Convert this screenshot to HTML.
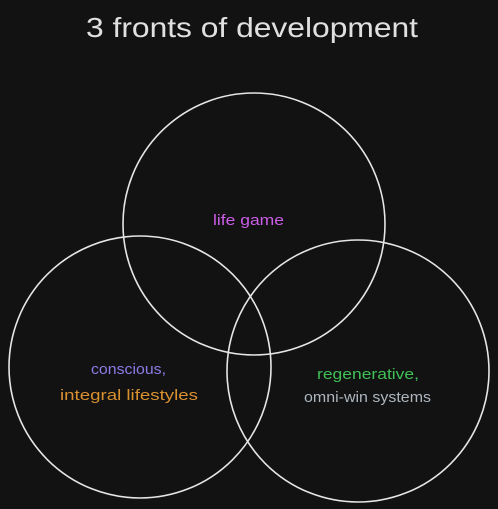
<!DOCTYPE html>
<html><head><style>
html,body{margin:0;padding:0;background:#121212;}
svg{display:block}
text{font-family:"Liberation Sans",sans-serif;}
</style></head><body>
<svg width="498" height="509" viewBox="0 0 498 509" xmlns="http://www.w3.org/2000/svg">
<rect width="498" height="509" fill="#121212"/>
<text x="86" y="37" font-size="28" fill="#e0e0e0" textLength="332" lengthAdjust="spacingAndGlyphs">3 fronts of development</text>
<g fill="none" stroke="#e6e6e6" stroke-width="1.6">
<circle cx="254" cy="224" r="131"/>
<circle cx="140" cy="367" r="131"/>
<circle cx="358" cy="371" r="131"/>
</g>
<text x="213" y="225" font-size="15" fill="#cc5de8" textLength="71" lengthAdjust="spacingAndGlyphs">life game</text>
<text x="91" y="374" font-size="15" fill="#8c7ae6" textLength="75" lengthAdjust="spacingAndGlyphs">conscious,</text>
<text x="60" y="400" font-size="15" fill="#d9902f" textLength="138" lengthAdjust="spacingAndGlyphs">integral lifestyles</text>
<text x="317" y="379" font-size="15" fill="#40c057" textLength="102" lengthAdjust="spacingAndGlyphs">regenerative,</text>
<text x="304" y="402" font-size="15" fill="#adb5bd" textLength="127" lengthAdjust="spacingAndGlyphs">omni-win systems</text>
</svg>
</body></html>
